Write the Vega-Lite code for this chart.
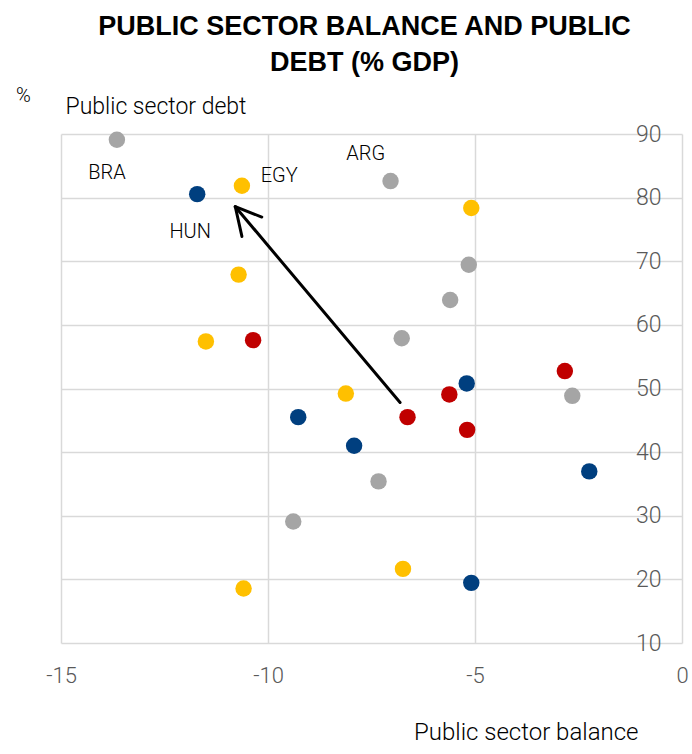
{
  "$schema": "https://vega.github.io/schema/vega-lite/v6.json",
  "autosize": "none",
  "width": 621,
  "height": 509,
  "padding": {"left": 61, "top": 134, "right": 10, "bottom": 111},
  "background": "white",
  "config": {
    "view": {"stroke": null},
    "font": "Roboto",
    "text": {"font": "Roboto"}
  },
  "title": {
    "text": ["PUBLIC SECTOR BALANCE AND PUBLIC", "DEBT (% GDP)"],
    "font": "Liberation Sans, Arial, sans-serif",
    "fontWeight": "bold",
    "fontSize": 27,
    "lineHeight": 36,
    "color": "#000000",
    "anchor": "middle",
    "frame": "group",
    "dx": -7,
    "offset": 8
  },
  "datasets": {
    "points": [
      {"x": -13.65, "y": 89.1, "g": "gray"},
      {"x": -7.04, "y": 82.6, "g": "gray"},
      {"x": -5.15, "y": 69.45, "g": "gray"},
      {"x": -5.6, "y": 63.9, "g": "gray"},
      {"x": -6.77, "y": 57.9, "g": "gray"},
      {"x": -2.65, "y": 48.85, "g": "gray"},
      {"x": -7.33, "y": 35.4, "g": "gray"},
      {"x": -9.39, "y": 29.1, "g": "gray"},
      {"x": -11.71, "y": 80.55, "g": "blue"},
      {"x": -9.27, "y": 45.5, "g": "blue"},
      {"x": -7.92, "y": 41.0, "g": "blue"},
      {"x": -5.2, "y": 50.8, "g": "blue"},
      {"x": -2.24, "y": 36.97, "g": "blue"},
      {"x": -5.09, "y": 19.45, "g": "blue"},
      {"x": -10.63, "y": 81.87, "g": "yellow"},
      {"x": -5.09, "y": 78.36, "g": "yellow"},
      {"x": -10.71, "y": 67.9, "g": "yellow"},
      {"x": -11.5, "y": 57.4, "g": "yellow"},
      {"x": -8.12, "y": 49.2, "g": "yellow"},
      {"x": -6.74, "y": 21.65, "g": "yellow"},
      {"x": -10.59, "y": 18.57, "g": "yellow"},
      {"x": -10.36, "y": 57.6, "g": "red"},
      {"x": -2.83, "y": 52.74, "g": "red"},
      {"x": -5.62, "y": 49.07, "g": "red"},
      {"x": -6.63, "y": 45.5, "g": "red"},
      {"x": -5.19, "y": 43.5, "g": "red"}
    ],
    "labels": [
      {"label": "BRA", "x": -13.89, "y": 83.8},
      {"label": "EGY", "x": -9.73, "y": 83.44},
      {"label": "ARG", "x": -7.64, "y": 86.8},
      {"label": "HUN", "x": -11.88, "y": 74.6}
    ],
    "arrow": [
      {"x": -6.81, "y": 47.8, "x2": -10.79, "y2": 78.57},
      {"x": -10.79, "y": 78.57, "x2": -10.15, "y2": 76.95},
      {"x": -10.79, "y": 78.57, "x2": -10.63, "y2": 73.9}
    ]
  },
  "resolve": {"axis": {"y": "independent"}},
  "layer": [
    {
      "data": {"name": "points"},
      "mark": {"type": "point", "filled": true, "opacity": 1, "size": 270, "shape": "circle"},
      "encoding": {
        "x": {
          "field": "x", "type": "quantitative",
          "scale": {"domain": [-15, 0], "nice": false, "zero": false},
          "axis": {
            "values": [-15, -10, -5, 0],
            "labelExpr": "'' + datum.value",
            "grid": true, "gridColor": "#D9D9D9", "gridWidth": 1.5,
            "domain": false, "ticks": false, "tickSize": 0,
            "labelFlush": false, "labelOverlap": false,
            "labelFont": "Roboto", "labelFontWeight": 300, "labelFontSize": 22, "labelColor": "#595959",
            "labelPadding": 22,
            "title": "Public sector balance",
            "titleFont": "Roboto", "titleFontWeight": 300, "titleFontSize": 24, "titleColor": "#000000",
            "titleX": 577, "titleY": 89, "titleAlign": "right", "titleBaseline": "middle"
          }
        },
        "y": {
          "field": "y", "type": "quantitative",
          "scale": {"domain": [10, 90], "nice": false, "zero": false},
          "axis": {
            "orient": "right",
            "values": [10, 20, 30, 40, 50, 60, 70, 80, 90],
            "grid": true, "gridColor": "#D9D9D9", "gridWidth": 1.5,
            "domain": false, "ticks": false, "tickSize": 0,
            "labelFlush": false, "labelOverlap": false,
            "labelFont": "Roboto", "labelFontWeight": 300, "labelFontSize": 23, "labelColor": "#595959",
            "labelAlign": "right", "labelPadding": -21,
            "title": "Public sector debt",
            "titleFont": "Roboto", "titleFontWeight": 300, "titleFontSize": 23, "titleColor": "#000000",
            "titleAngle": 0, "titleAlign": "left", "titleBaseline": "middle",
            "titleX": -617, "titleY": -28
          }
        },
        "color": {
          "field": "g", "type": "nominal",
          "scale": {"domain": ["gray", "blue", "yellow", "red"], "range": ["#A5A5A5", "#003F7F", "#FFC000", "#C00000"]},
          "legend": null
        }
      }
    },
    {
      "data": {"name": "labels"},
      "mark": {"type": "text", "font": "Roboto", "fontWeight": 300, "fontSize": 20, "color": "#000000", "align": "center", "baseline": "middle"},
      "encoding": {
        "x": {"field": "x", "type": "quantitative"},
        "y": {
          "field": "y", "type": "quantitative",
          "axis": {
            "orient": "left",
            "labels": false, "grid": false, "ticks": false, "domain": false,
            "title": "%",
            "titleFont": "Roboto", "titleFontWeight": 300, "titleFontSize": 20, "titleColor": "#000000",
            "titleAngle": 0, "titleAlign": "center", "titleBaseline": "middle",
            "titleX": -38, "titleY": -39
          }
        },
        "text": {"field": "label"}
      }
    },
    {
      "data": {"name": "arrow"},
      "mark": {"type": "rule", "color": "#000000", "strokeWidth": 3, "strokeCap": "round"},
      "encoding": {
        "x": {"field": "x", "type": "quantitative"},
        "y": {"field": "y", "type": "quantitative", "axis": null},
        "x2": {"field": "x2"},
        "y2": {"field": "y2"}
      }
    },
    {
      "mark": {"type": "text", "font": "Roboto", "fontWeight": 300, "fontSize": 24, "lineHeight": 33, "color": "#000000", "align": "center", "baseline": "middle", "text": ["Higher", "vulnerability"]},
      "encoding": {
        "x": {"datum": -7.32, "type": "quantitative"},
        "y": {"datum": 69.25, "type": "quantitative", "axis": null}
      }
    }
  ]
}
